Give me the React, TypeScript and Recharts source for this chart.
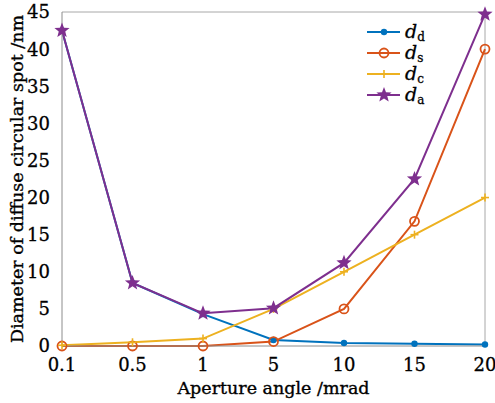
import { LineChart, Line, XAxis, YAxis, ReferenceLine, Customized } from 'recharts'

const apertures = ['0.1', '0.5', '1', '5', '10', '15', '20']
const dd = [42.5, 8.5, 4.3, 0.8, 0.4, 0.3, 0.2]
const ds = [0, 0, 0, 0.6, 5.0, 16.8, 40.0]
const dc = [0.1, 0.5, 1.0, 5.0, 10.0, 15.0, 20.0]
const da = [42.5, 8.5, 4.4, 5.1, 11.2, 22.5, 44.7]
const yTicks = [0, 5, 10, 15, 20, 25, 30, 35, 40, 45]

const BLUE = '#0072BD'
const ORANGE = '#D95319'
const YELLOW = '#EDB120'
const PURPLE = '#7E2F8E'
const FONT = '"DejaVu Serif", serif'

const data = apertures.map((a, i) => ({ a, dd: dd[i], ds: ds[i], dc: dc[i], da: da[i] }))

function starPoints(cx: number, cy: number, ro: number, ri: number) {
  const pts: string[] = []
  for (let k = 0; k < 10; k++) {
    const r = k % 2 === 0 ? ro : ri
    const ang = -Math.PI / 2 + (k * Math.PI) / 5
    pts.push(`${cx + r * Math.cos(ang)},${cy + r * Math.sin(ang)}`)
  }
  return pts.join(' ')
}

function Marker({ kind, cx, cy }: { kind: string; cx: number; cy: number }) {
  if (kind === 'dd') return <circle cx={cx} cy={cy} r={3.2} fill={BLUE} />
  if (kind === 'ds')
    return <circle cx={cx} cy={cy} r={4.5} fill="none" stroke={ORANGE} strokeWidth={1.8} />
  if (kind === 'dc')
    return (
      <g stroke={YELLOW} strokeWidth={1.6}>
        <line x1={cx - 4} y1={cy} x2={cx + 4} y2={cy} />
        <line x1={cx} y1={cy - 4} x2={cx} y2={cy + 4} />
      </g>
    )
  return <polygon points={starPoints(cx, cy, 8, 3.4)} fill={PURPLE} />
}

const dotFor = (kind: string) => (p: any) => (
  <Marker key={`${kind}-${p.index}`} kind={kind} cx={p.cx} cy={p.cy} />
)

const legendItems = [
  { kind: 'dd', color: BLUE, sub: 'd' },
  { kind: 'ds', color: ORANGE, sub: 's' },
  { kind: 'dc', color: YELLOW, sub: 'c' },
  { kind: 'da', color: PURPLE, sub: 'a' },
]

// legend drawn inside the chart svg, top right of the plot
function LegendG() {
  return (
    <g transform="translate(366,22)">
      {legendItems.map((it, i) => {
        const y = 10 + i * 21
        return (
          <g key={it.kind}>
            <line x1={1} y1={y} x2={34} y2={y} stroke={it.color} strokeWidth={2} />
            <Marker kind={it.kind} cx={18} cy={y} />
            <text x={39} y={y + 6} fontFamily={FONT} fontSize={19} fill="#000" stroke="#000" strokeWidth={0.3}>
              <tspan fontStyle="italic">d</tspan>
              <tspan fontSize={12} dy={3}>{it.sub}</tspan>
            </text>
          </g>
        )
      })}
    </g>
  )
}

const tickStyle = { fill: '#000', fontSize: 18, fontFamily: FONT, stroke: '#000', strokeWidth: 0.3 }

export default function App() {
  return (
    <div style={{ position: 'absolute', left: 0, top: 0, width: 495, height: 403, background: '#fff' }}>
      <LineChart
        width={495}
        height={403}
        data={data}
        margin={{ top: 12, right: 10, left: 0, bottom: 0 }}
      >
        <XAxis
          dataKey="a"
          height={57}
          tickLine={false}
          stroke="#8c8c8c"
          tick={tickStyle}
          tickMargin={6}
          interval={0}
          label={{
            value: 'Aperture angle /mrad',
            position: 'insideBottom',
            offset: 9,
            fill: '#000',
            stroke: '#000',
            strokeWidth: 0.35,
            fontSize: 17.5,
            fontFamily: FONT,
          }}
        />
        <YAxis
          domain={[0, 45]}
          ticks={yTicks}
          width={62}
          tickLine={false}
          stroke="#8c8c8c"
          tick={tickStyle}
          tickMargin={6}
          interval={0}
          label={{
            value: 'Diameter of diffuse circular spot /nm',
            angle: -90,
            position: 'center',
            dx: -14,
            fill: '#000',
            stroke: '#000',
            strokeWidth: 0.35,
            fontSize: 17.5,
            fontFamily: FONT,
          }}
        />
        <ReferenceLine y={45} stroke="#a8a8a8" strokeWidth={1} />
        <ReferenceLine x="20" stroke="#a8a8a8" strokeWidth={1} />
        <Line dataKey="dd" stroke={BLUE} strokeWidth={2} dot={dotFor('dd')} isAnimationActive={false} />
        <Line dataKey="ds" stroke={ORANGE} strokeWidth={2} dot={dotFor('ds')} isAnimationActive={false} />
        <Line dataKey="dc" stroke={YELLOW} strokeWidth={2} dot={dotFor('dc')} isAnimationActive={false} />
        <Line dataKey="da" stroke={PURPLE} strokeWidth={2} dot={dotFor('da')} isAnimationActive={false} />
        <Customized component={LegendG} />
      </LineChart>
    </div>
  )
}
